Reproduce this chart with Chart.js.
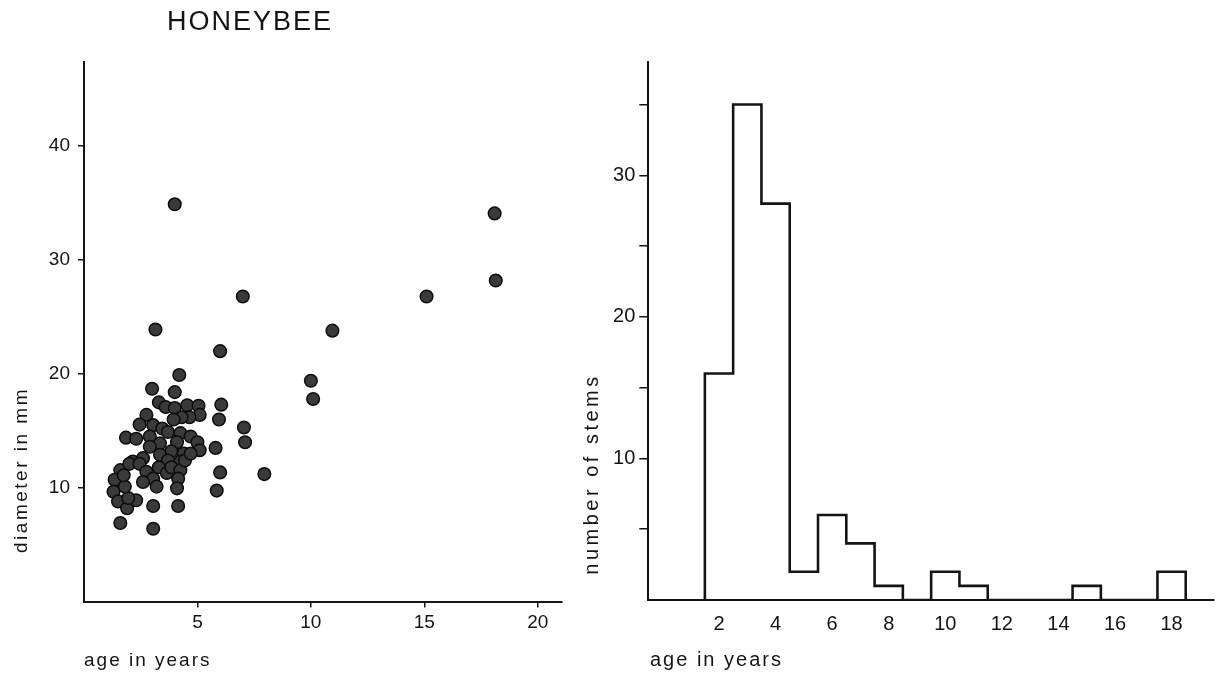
<!DOCTYPE html>
<html lang="en">
<head>
<meta charset="UTF-8">
<title>Honeybee - stem diameter and age</title>
<style>
    body {
        margin: 0;
        background: #fff;
    }
    .panel {
        position: absolute;
        top: 0;
        height: 677px;
    }
    #leftPanel { left: 0; width: 570px; }
    #rightPanel { left: 570px; width: 648px; }
</style>
</head>
<body>
<div class="panel" id="leftPanel"><canvas id="scatterChart"></canvas></div>
<div class="panel" id="rightPanel"><canvas id="histChart"></canvas></div>

<script src="https://cdn.jsdelivr.net/npm/chart.js"></script>
<script>
    // Scatter: age of stem vs diameter
    const ageYears = [
        4.2, 3.0, 4.0, 3.3, 3.6, 4.0, 4.55, 5.05, 5.1, 4.65,
        2.75, 4.3, 3.95, 2.45, 3.05, 3.45, 1.85, 3.7, 4.25, 4.7,
        5.0, 5.1, 4.1, 2.9, 2.3, 3.35, 2.9, 3.85, 4.4, 3.35,
        2.6, 2.15, 4.25, 3.7, 1.6, 2.0, 1.35, 1.3, 1.5, 1.9,
        2.3, 1.95, 1.8, 1.75, 2.45, 2.75, 3.05, 3.2, 2.6, 3.3,
        3.65, 3.85, 4.25, 4.15, 4.1, 4.45, 4.7, 3.05, 4.15, 1.6,
        3.05, 3.15, 4.0,
        6.0, 6.05, 5.95, 5.8, 6.0, 5.85, 7.0, 7.05, 7.1, 7.95,
        10.0, 10.1, 10.95, 15.1, 18.1, 18.15
    ];
    const diameterMm = [
        19.9, 18.7, 18.4, 17.5, 17.1, 17.0, 17.25, 17.2, 16.4, 16.2,
        16.4, 16.2, 16.0, 15.55, 15.5, 15.2, 14.4, 14.9, 14.8, 14.5,
        14.0, 13.3, 14.0, 14.5, 14.3, 13.9, 13.6, 13.2, 13.0, 12.9,
        12.6, 12.3, 12.3, 12.4, 11.55, 12.1, 10.7, 9.65, 8.8, 8.2,
        8.9, 9.1, 10.1, 11.1, 12.1, 11.4, 10.8, 10.1, 10.5, 11.8,
        11.3, 11.8, 11.55, 10.8, 9.95, 12.4, 13.0, 8.4, 8.4, 6.9,
        6.4, 23.9, 34.9,
        22.0, 17.3, 16.0, 13.5, 11.35, 9.75, 26.8, 15.3, 14.0, 11.2,
        19.4, 17.8, 23.8, 26.8, 34.1, 28.2
    ];
    const scatterXTicks = [5, 10, 15, 20];
    const scatterYTicks = [10, 20, 30, 40];

    // Histogram: number of stems in each age class
    const ageClasses = [2, 3, 4, 5, 6, 7, 8, 9, 10, 11, 12, 13, 14, 15, 16, 17, 18];
    const stemCounts = [16, 35, 28, 2, 6, 4, 1, 0, 2, 1, 0, 0, 0, 1, 0, 0, 2];
    const histXTicks = [2, 4, 6, 8, 10, 12, 14, 16, 18];
    const histYTicks = [5, 10, 15, 20, 25, 30, 35];
    const histYLabelled = [10, 20, 30];

    const chartTitle = 'HONEYBEE';
    const scatterXTitle = 'age in years';
    const scatterYTitle = 'diameter in mm';
    const histXTitle = 'age in years';
    const histYTitle = 'number of stems';

    const FONT = '"Liberation Sans", Arial, Helvetica, sans-serif';
    const INK = '#141414';

    // draws the titles, with the wide letter spacing of the original print
    const panelText = {
        id: 'panelText',
        afterDraw(chart, args, opts) {
            const ctx = chart.ctx;
            opts.items.forEach(t => {
                ctx.save();
                ctx.font = t.size + 'px ' + FONT;
                ctx.letterSpacing = t.spacing + 'px';
                ctx.fillStyle = INK;
                ctx.textBaseline = 'middle';
                ctx.textAlign = t.align;
                ctx.translate(t.x, t.y);
                if (t.rotate) ctx.rotate(-Math.PI / 2);
                ctx.fillText(t.text, 0, 0);
                ctx.restore();
            });
        }
    };

    function axisStyle(tickLength) {
        return {
            grid: {
                drawOnChartArea: false,
                drawTicks: tickLength > 0,
                tickLength: tickLength,
                color: INK,
                lineWidth: 1.5
            },
            border: { display: true, color: INK, width: 2 }
        };
    }

    // scatter chart
    const scatterPoints = ageYears.map((a, i) => ({ x: a, y: diameterMm[i] }));

    new Chart(document.getElementById('scatterChart'), {
        type: 'scatter',
        data: {
            datasets: [{
                data: scatterPoints,
                backgroundColor: '#3a3a3a',
                borderColor: '#0c0c0c',
                borderWidth: 1.5,
                pointRadius: 6.3,
                pointHoverRadius: 6.3
            }]
        },
        options: {
            responsive: true,
            maintainAspectRatio: false,
            animation: false,
            events: [],
            layout: { padding: { top: 62, right: 8, left: 0, bottom: 0 } },
            plugins: {
                legend: { display: false },
                tooltip: { enabled: false },
                panelText: {
                    items: [
                        { text: chartTitle, x: 167, y: 23, size: 27, spacing: 2, align: 'left' },
                        { text: scatterYTitle, x: 22, y: 470, size: 19, spacing: 2.5, align: 'center', rotate: true },
                        { text: scatterXTitle, x: 84, y: 661, size: 19, spacing: 2, align: 'left' }
                    ]
                }
            },
            scales: {
                x: {
                    type: 'linear',
                    min: 0,
                    max: 21.07,
                    afterBuildTicks: s => { s.ticks = scatterXTicks.map(v => ({ value: v })); },
                    afterFit: s => { s.height = 75.4; },
                    ticks: { color: INK, padding: 4, font: { family: FONT, size: 19 } },
                    ...axisStyle(6)
                },
                y: {
                    type: 'linear',
                    min: 0,
                    max: 47.4,
                    afterBuildTicks: s => { s.ticks = scatterYTicks.map(v => ({ value: v })); },
                    afterFit: s => { s.width = 84; },
                    ticks: { color: INK, padding: 8, font: { family: FONT, size: 19 } },
                    ...axisStyle(6)
                }
            }
        },
        plugins: [panelText]
    });

    // histogram outline: one step per age class, left edge at class - 0.5
    const histOutline = [{ x: ageClasses[0] - 0.5, y: 0 }];
    ageClasses.forEach((a, i) => histOutline.push({ x: a - 0.5, y: stemCounts[i] }));
    histOutline.push({ x: ageClasses[ageClasses.length - 1] + 0.5, y: 0 });

    new Chart(document.getElementById('histChart'), {
        type: 'scatter',
        data: {
            datasets: [{
                data: histOutline,
                showLine: true,
                stepped: 'before',
                borderColor: INK,
                borderWidth: 2.6,
                pointRadius: 0,
                fill: false
            }]
        },
        options: {
            responsive: true,
            maintainAspectRatio: false,
            animation: false,
            events: [],
            layout: { padding: { top: 62, right: 4, left: 0, bottom: 0 } },
            plugins: {
                legend: { display: false },
                tooltip: { enabled: false },
                panelText: {
                    items: [
                        { text: histYTitle, x: 22, y: 474, size: 20, spacing: 3.5, align: 'center', rotate: true },
                        { text: histXTitle, x: 80, y: 660, size: 20, spacing: 2, align: 'left' }
                    ]
                }
            },
            scales: {
                x: {
                    type: 'linear',
                    min: -0.5,
                    max: 19.5,
                    afterBuildTicks: s => { s.ticks = histXTicks.map(v => ({ value: v })); },
                    afterFit: s => { s.height = 77; },
                    ticks: { color: INK, padding: 12, font: { family: FONT, size: 20 } },
                    ...axisStyle(0)
                },
                y: {
                    type: 'linear',
                    min: 0,
                    max: 38,
                    afterBuildTicks: s => { s.ticks = histYTicks.map(v => ({ value: v })); },
                    afterFit: s => { s.width = 78.3; },
                    ticks: {
                        color: INK,
                        padding: 4,
                        font: { family: FONT, size: 20 },
                        callback: v => histYLabelled.includes(v) ? v : ''
                    },
                    ...axisStyle(9)
                }
            }
        },
        plugins: [panelText]
    });
</script>
</body>
</html>
